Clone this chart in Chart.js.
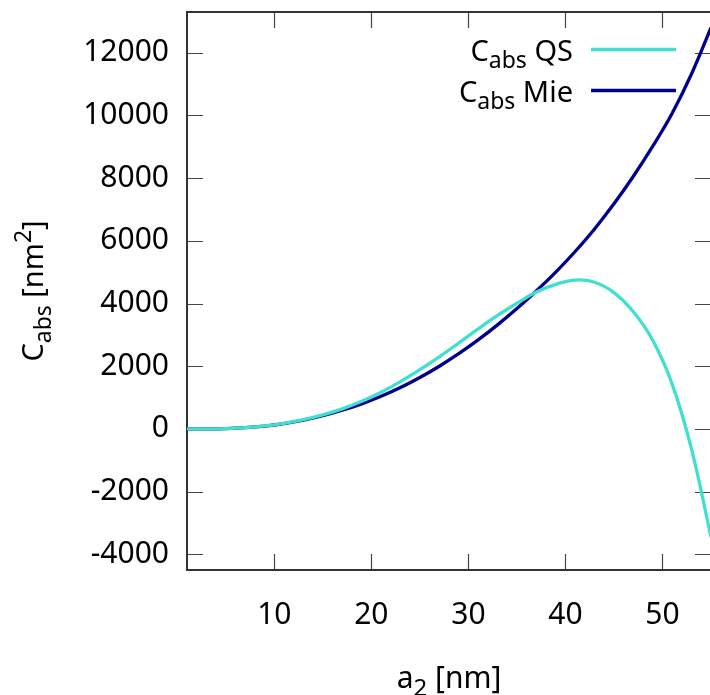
<!DOCTYPE html>
<html>
<head>
<meta charset="utf-8">
<script src="https://cdn.jsdelivr.net/npm/chart.js@4"></script>
<style>
  html, body { margin: 0; padding: 0; background: #fff; overflow: hidden; }
  #wrap { width: 712px; height: 695px; }
</style>
</head>
<body>
<div id="wrap"><canvas id="absChart" width="712" height="695"></canvas></div>
<script>
// particle radius a2 [nm]
const radii = [1, 3, 5, 7, 9, 11, 13, 15, 17, 19, 21, 23, 25, 27, 29, 31, 33, 35, 37, 39, 41, 43, 45, 47, 49, 51, 53, 55];
// absorption cross sections [nm^2]
const cabsQS  = [0, 3, 13, 42, 95, 180, 300, 450, 640, 880, 1170, 1510, 1890, 2300, 2740, 3190, 3620, 4010, 4370, 4610, 4750, 4680, 4350, 3740, 2830, 1430, -650, -3450];
const cabsMie = [0, 3, 13, 40, 90, 170, 280, 420, 595, 800, 1040, 1320, 1640, 2000, 2400, 2840, 3320, 3840, 4400, 5000, 5660, 6380, 7180, 8060, 9020, 10070, 11330, 12800];

const xTicks = [10, 20, 30, 40, 50];
const yTicks = [-4000, -2000, 0, 2000, 4000, 6000, 8000, 10000, 12000];

const FONT = "'Noto Sans', 'Open Sans', sans-serif";
const QS_COLOR = "#40e0d0";
const MIE_COLOR = "#00008b";

function toPoints(ys) {
  return radii.map((r, i) => ({ x: r, y: ys[i] }));
}

// text with sub/superscripts, e.g. C_abs [nm^2]
function drawRich(ctx, parts, x, y, size, align) {
  const small = Math.round(size * 0.8);
  const widths = parts.map(p => {
    ctx.font = `${p.sub || p.sup ? small : size}px ${FONT}`;
    return ctx.measureText(p.t).width;
  });
  const total = widths.reduce((s, w) => s + w, 0);
  let cx = align === "right" ? x - total : align === "center" ? x - total / 2 : x;
  parts.forEach((p, i) => {
    ctx.font = `${p.sub || p.sup ? small : size}px ${FONT}`;
    const dy = p.sub ? size * 0.27 : p.sup ? -size * 0.42 : 0;
    ctx.fillText(p.t, cx, y + dy);
    cx += widths[i];
  });
}

// no extra room for half-height end labels
function noEdgePadding(s) {
  s.paddingTop = 0;
  s.paddingBottom = 0;
  s.paddingLeft = 0;
  s.paddingRight = 0;
}

const framePlugin = {
  id: "gnuplotFrame",
  beforeDatasetsDraw(chart) {
    const { ctx, chartArea: a, scales: { x, y } } = chart;
    ctx.save();
    // tick marks point inwards, mirrored on all sides
    ctx.strokeStyle = "#444";
    ctx.lineWidth = 1.2;
    ctx.beginPath();
    xTicks.forEach(v => {
      const px = Math.round(x.getPixelForValue(v)) + 0.5;
      ctx.moveTo(px, a.bottom); ctx.lineTo(px, a.bottom - 16);
      ctx.moveTo(px, a.top); ctx.lineTo(px, a.top + 16);
    });
    yTicks.forEach(v => {
      const py = Math.round(y.getPixelForValue(v)) + 0.5;
      ctx.moveTo(a.left, py); ctx.lineTo(a.left + 16, py);
      ctx.moveTo(a.right, py); ctx.lineTo(a.right - 16, py);
    });
    ctx.stroke();
    ctx.strokeStyle = "#333";
    ctx.lineWidth = 2;
    ctx.strokeRect(a.left, a.top, a.right - a.left, a.bottom - a.top);
    ctx.restore();
  },
  afterDraw(chart) {
    const { ctx, chartArea: a } = chart;
    ctx.save();
    ctx.fillStyle = "#000";
    ctx.textBaseline = "alphabetic";
    ctx.textAlign = "left";

    // axis titles
    drawRich(ctx, [{ t: "a" }, { t: "2", sub: true }, { t: " [nm]" }], (a.left + a.right) / 2, 688, 30, "center");
    ctx.save();
    ctx.translate(43, (a.top + a.bottom) / 2);
    ctx.rotate(-Math.PI / 2);
    drawRich(ctx, [{ t: "C" }, { t: "abs", sub: true }, { t: " [nm" }, { t: "2", sup: true }, { t: "]" }], 0, 0, 29, "center");
    ctx.restore();

    // key, top right
    const rows = [
      { label: "QS", color: QS_COLOR, base: 60.5, line: 49.5 },
      { label: "Mie", color: MIE_COLOR, base: 101.5, line: 90.5 }
    ];
    rows.forEach(r => {
      drawRich(ctx, [{ t: "C" }, { t: "abs", sub: true }, { t: " " + r.label }], 573, r.base, 29, "right");
      ctx.strokeStyle = r.color;
      ctx.lineWidth = 3.3;
      ctx.beginPath();
      ctx.moveTo(591, r.line);
      ctx.lineTo(676, r.line);
      ctx.stroke();
    });
    ctx.restore();
  }
};

const ctx = document.getElementById("absChart").getContext("2d");
new Chart(ctx, {
  type: "line",
  data: {
    datasets: [
      {
        label: "Cabs QS",
        data: toPoints(cabsQS),
        borderColor: QS_COLOR,
        borderWidth: 3.3,
        pointRadius: 0,
        tension: 0.4,
        fill: false
      },
      {
        label: "Cabs Mie",
        data: toPoints(cabsMie),
        borderColor: MIE_COLOR,
        borderWidth: 3.3,
        pointRadius: 0,
        tension: 0.4,
        fill: false
      }
    ]
  },
  options: {
    responsive: false,
    animation: false,
    devicePixelRatio: 1,
    layout: { padding: { top: 12, left: 0, right: 1, bottom: 0 } },
    plugins: {
      legend: { display: false },
      tooltip: { enabled: false }
    },
    scales: {
      x: {
        type: "linear",
        min: 1,
        max: 55,
        grid: { display: false },
        border: { display: false },
        afterBuildTicks: s => { s.ticks = xTicks.map(v => ({ value: v })); },
        afterFit: s => { s.height = 125; noEdgePadding(s); },
        ticks: {
          color: "#000",
          padding: 19,
          maxRotation: 0,
          callback: v => String(v),
          font: { family: FONT, size: 30 }
        }
      },
      y: {
        type: "linear",
        min: -4500,
        max: 13300,
        grid: { display: false },
        border: { display: false },
        afterBuildTicks: s => { s.ticks = yTicks.map(v => ({ value: v })); },
        afterFit: s => { s.width = 187; noEdgePadding(s); },
        ticks: {
          color: "#000",
          padding: 10,
          callback: v => String(v),
          font: { family: FONT, size: 30 }
        }
      }
    }
  },
  plugins: [framePlugin]
});
</script>
</body>
</html>
